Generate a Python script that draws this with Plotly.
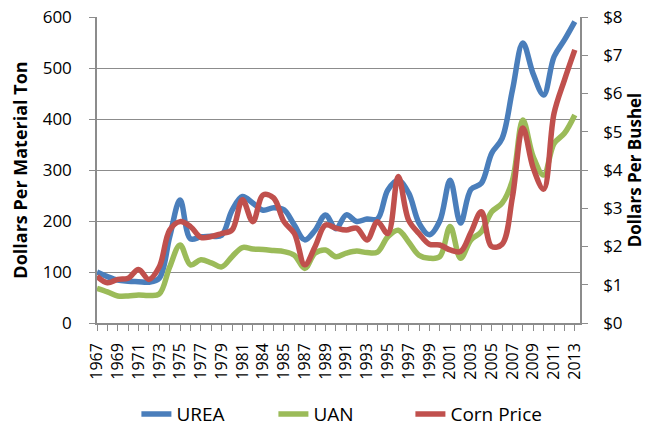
import plotly.graph_objects as go

years = list(range(1967, 2014))

urea = [100, 91, 84, 82, 81, 80, 88, 169, 241, 165, 169, 170, 172, 221, 248, 235, 221, 226,
        222, 192, 163, 182, 212, 185, 212, 199, 204, 204, 261, 280, 255, 196, 173, 200,
        280, 196, 262, 274, 333, 362, 457, 549, 488, 447, 522, 555, 591]

uan = [68, 61, 53, 53, 55, 54, 57, 110, 153, 114, 124, 118, 110, 130, 148, 145, 144, 142,
       140, 133, 107, 137, 143, 130, 137, 141, 138, 139, 169, 182, 159, 133, 127, 130,
       189, 127, 163, 179, 218, 235, 280, 398, 326, 290, 352, 372, 408]

corn = [1.22, 1.05, 1.14, 1.17, 1.40, 1.14, 1.47, 2.43, 2.65, 2.52, 2.24, 2.26, 2.34, 2.43,
        3.22, 2.65, 3.35, 3.27, 2.65, 2.34, 1.52, 2.00, 2.56, 2.48, 2.43, 2.48, 2.17, 2.65,
        2.34, 3.83, 2.69, 2.34, 2.06, 2.04, 1.91, 1.87, 2.37, 2.91, 2.00, 2.06, 3.30, 5.10,
        4.05, 3.50, 5.48, 6.35, 7.14]

tick_labels = ["1967", "", "1969", "", "1971", "", "1973", "", "1975", "", "1977", "", "1979", "",
               "1981", "", "1984", "", "1985", "", "1987", "", "1989", "", "1991", "", "1993", "",
               "1995", "", "1997", "", "1999", "", "2001", "", "2003", "", "2005", "", "2007", "",
               "2009", "", "2011", "", "2013"]

FONT = "'Open Sans', sans-serif"
GRID = "#8c8c8c"

fig = go.Figure()
fig.add_trace(go.Scatter(x=years, y=urea, name="UREA", mode="lines",
                         line=dict(color="#4A7EBB", width=5.5, shape="spline", smoothing=1)))
fig.add_trace(go.Scatter(x=years, y=uan, name="UAN", mode="lines",
                         line=dict(color="#9BBB59", width=5.5, shape="spline", smoothing=1)))
fig.add_trace(go.Scatter(x=years, y=corn, name="Corn Price", mode="lines", yaxis="y2",
                         line=dict(color="#C0504D", width=5.5, shape="spline", smoothing=1)))

fig.update_layout(
    width=655, height=427,
    margin=dict(l=97, r=75, t=17, b=104),
    paper_bgcolor="white", plot_bgcolor="white",
    font=dict(family=FONT, size=16, color="#000000"),
    showlegend=True,
    legend=dict(orientation="h", x=0.522, xanchor="center", xref="container",
                y=0.03, yanchor="middle", yref="container",
                font=dict(size=19), tracegroupgap=0, entrywidth=92, entrywidthmode="pixels"),
    xaxis=dict(range=[1967, 2013.5], tickvals=years, ticktext=tick_labels, tickangle=-90,
               showgrid=False, showline=True, linecolor=GRID, linewidth=1.5,
               ticks="outside", ticklen=6, tickcolor=GRID, tickwidth=1.2,
               tickfont=dict(size=16), ticklabelstandoff=6,
               zeroline=False, automargin=False),
    yaxis=dict(range=[0, 600], dtick=100, showgrid=True, gridcolor=GRID, gridwidth=1.2,
               showline=True, linecolor=GRID, linewidth=1.5, ticks="outside", ticklen=6,
               tickcolor=GRID, tickwidth=1.2, zeroline=False, tickfont=dict(size=17),
               ticklabelstandoff=14, automargin=False,
               title=dict(text="<b>Dollars Per Material Ton</b>", font=dict(size=18), standoff=10)),
    yaxis2=dict(range=[0, 8], dtick=1, tickprefix="$", overlaying="y", side="right",
                showgrid=False, showline=True, linecolor=GRID, linewidth=1.5, ticks="outside",
                ticklen=6, tickcolor=GRID, tickwidth=1.2, zeroline=False, tickfont=dict(size=17),
                ticklabelstandoff=12, automargin=False,
                title=dict(text="<b>Dollars Per Bushel</b>", font=dict(size=17), standoff=5)),
)

fig.write_html("out.html", config={"displayModeBar": False},
               post_script="document.body.style.margin='0';document.body.style.padding='0';")
